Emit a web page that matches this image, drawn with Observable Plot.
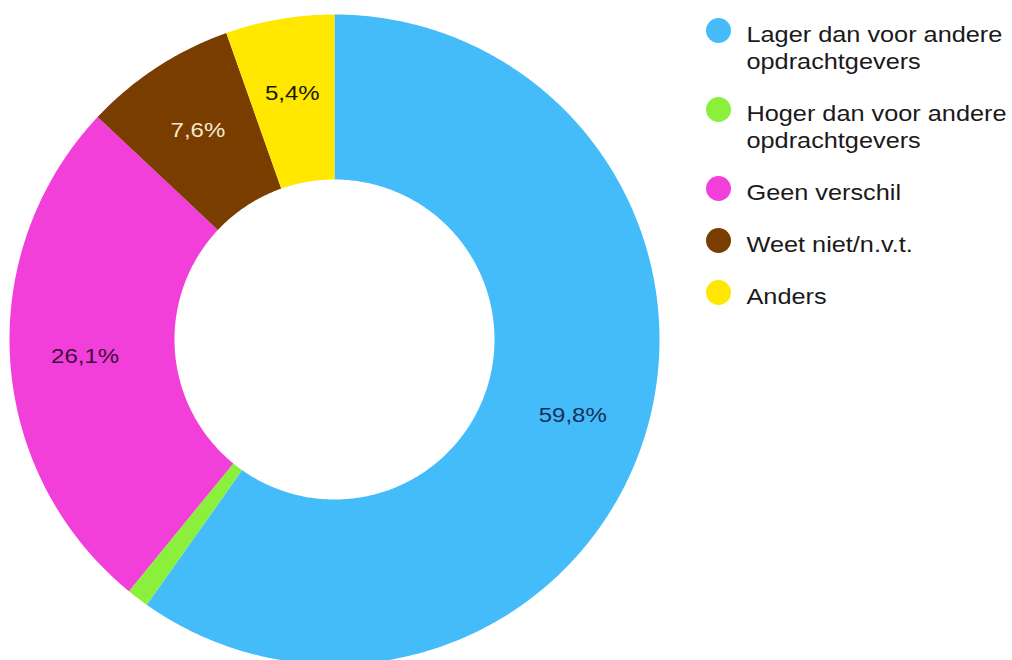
<!DOCTYPE html>
<html>
<head>
<meta charset="utf-8">
<script src="https://cdn.jsdelivr.net/npm/d3@7"></script>
<script src="https://cdn.jsdelivr.net/npm/@observablehq/plot@0.6"></script>
<style>
  html, body { margin: 0; padding: 0; background: #fff; }
  #chart svg { display: block; }
</style>
</head>
<body>
<div id="chart"></div>
<script>
// ---- data ----
const categories = [
  "Lager dan voor andere\nopdrachtgevers",
  "Hoger dan voor andere\nopdrachtgevers",
  "Geen verschil",
  "Weet niet/n.v.t.",
  "Anders"
];
const values = [59.8, 1.1, 26.1, 7.6, 5.4];
const valueLabels = ["59,8%", "", "26,1%", "7,6%", "5,4%"];
const colors = ["#44bcfa", "#8af03c", "#f23fd9", "#7a3d00", "#ffe700"];
const labelColors = ["#15305a", "#222", "#3a0f3a", "#f6e8d0", "#1a1a00"];

// ---- geometry ----
const W = 1012, H = 660;
const cx = 334, cy = 339, rOuter = 325, rInner = 160, rLabel = 250;

const rows = categories.map((c, i) => ({key: c, value: values[i], label: valueLabels[i], lc: labelColors[i]}));
const arcs = d3.pie().sort(null).value(d => d.value).startAngle(0).endAngle(2 * Math.PI)(rows);

const px = (r, a) => cx + r * Math.sin(a);
const py = (r, a) => cy - r * Math.cos(a);

const polys = [];
arcs.forEach(a => {
  const n = Math.max(2, Math.ceil((a.endAngle - a.startAngle) / (Math.PI / 360)));
  for (let k = 0; k <= n; k++) {
    const t = a.startAngle + (a.endAngle - a.startAngle) * k / n;
    polys.push({key: a.data.key, x: px(rOuter, t), y: py(rOuter, t)});
  }
  for (let k = n; k >= 0; k--) {
    const t = a.startAngle + (a.endAngle - a.startAngle) * k / n;
    polys.push({key: a.data.key, x: px(rInner, t), y: py(rInner, t)});
  }
});

const labels = arcs.filter(a => a.data.label).map(a => {
  const m = (a.startAngle + a.endAngle) / 2;
  return {text: a.data.label, x: px(rLabel, m), y: py(rLabel, m), c: a.data.lc};
});

// legend layout
let yTop = 22;
const legend = categories.map((c, i) => {
  const lines = c.split("\n").length;
  const item = {key: c, yText: yTop, yDot: yTop + 8};
  yTop += 52 + 27 * (lines - 1);
  return item;
});

const plot = Plot.plot({
  width: W,
  height: H,
  margin: 0,
  x: {domain: [0, W], range: [0, W], axis: null},
  y: {domain: [0, H], range: [0, H], axis: null},
  color: {domain: categories, range: colors, legend: false},
  style: {fontFamily: "'Liberation Sans', Arial, sans-serif", background: "#fff"},
  marks: [
    Plot.line(polys, {x: "x", y: "y", z: "key", fill: "key", stroke: "none", curve: "linear-closed"}),
    Plot.text(labels, {x: "x", y: "y", text: "text", fill: "c", fontSize: 20.5, textAnchor: "middle"}),
    Plot.dot(legend, {x: 718, y: "yDot", r: 12.5, fill: "key", stroke: "none"}),
    Plot.text(legend, {x: 746, y: "yText", text: "key", fill: "#1a1a1a", fontSize: 22, textAnchor: "start", lineAnchor: "top", lineHeight: 27 / 22})
  ]
});
// widen glyphs horizontally, as in the reference rendering
const groups = plot.querySelectorAll('g[aria-label="text"]');
groups.forEach((g, gi) => {
  const s = gi === 0 ? 1.17 : 1.15;
  g.querySelectorAll("text").forEach(t => {
    const tr = t.getAttribute("transform") || "";
    t.setAttribute("transform", tr + ` scale(${s},1)`);
  });
});
document.getElementById("chart").appendChild(plot);
</script>
</body>
</html>
